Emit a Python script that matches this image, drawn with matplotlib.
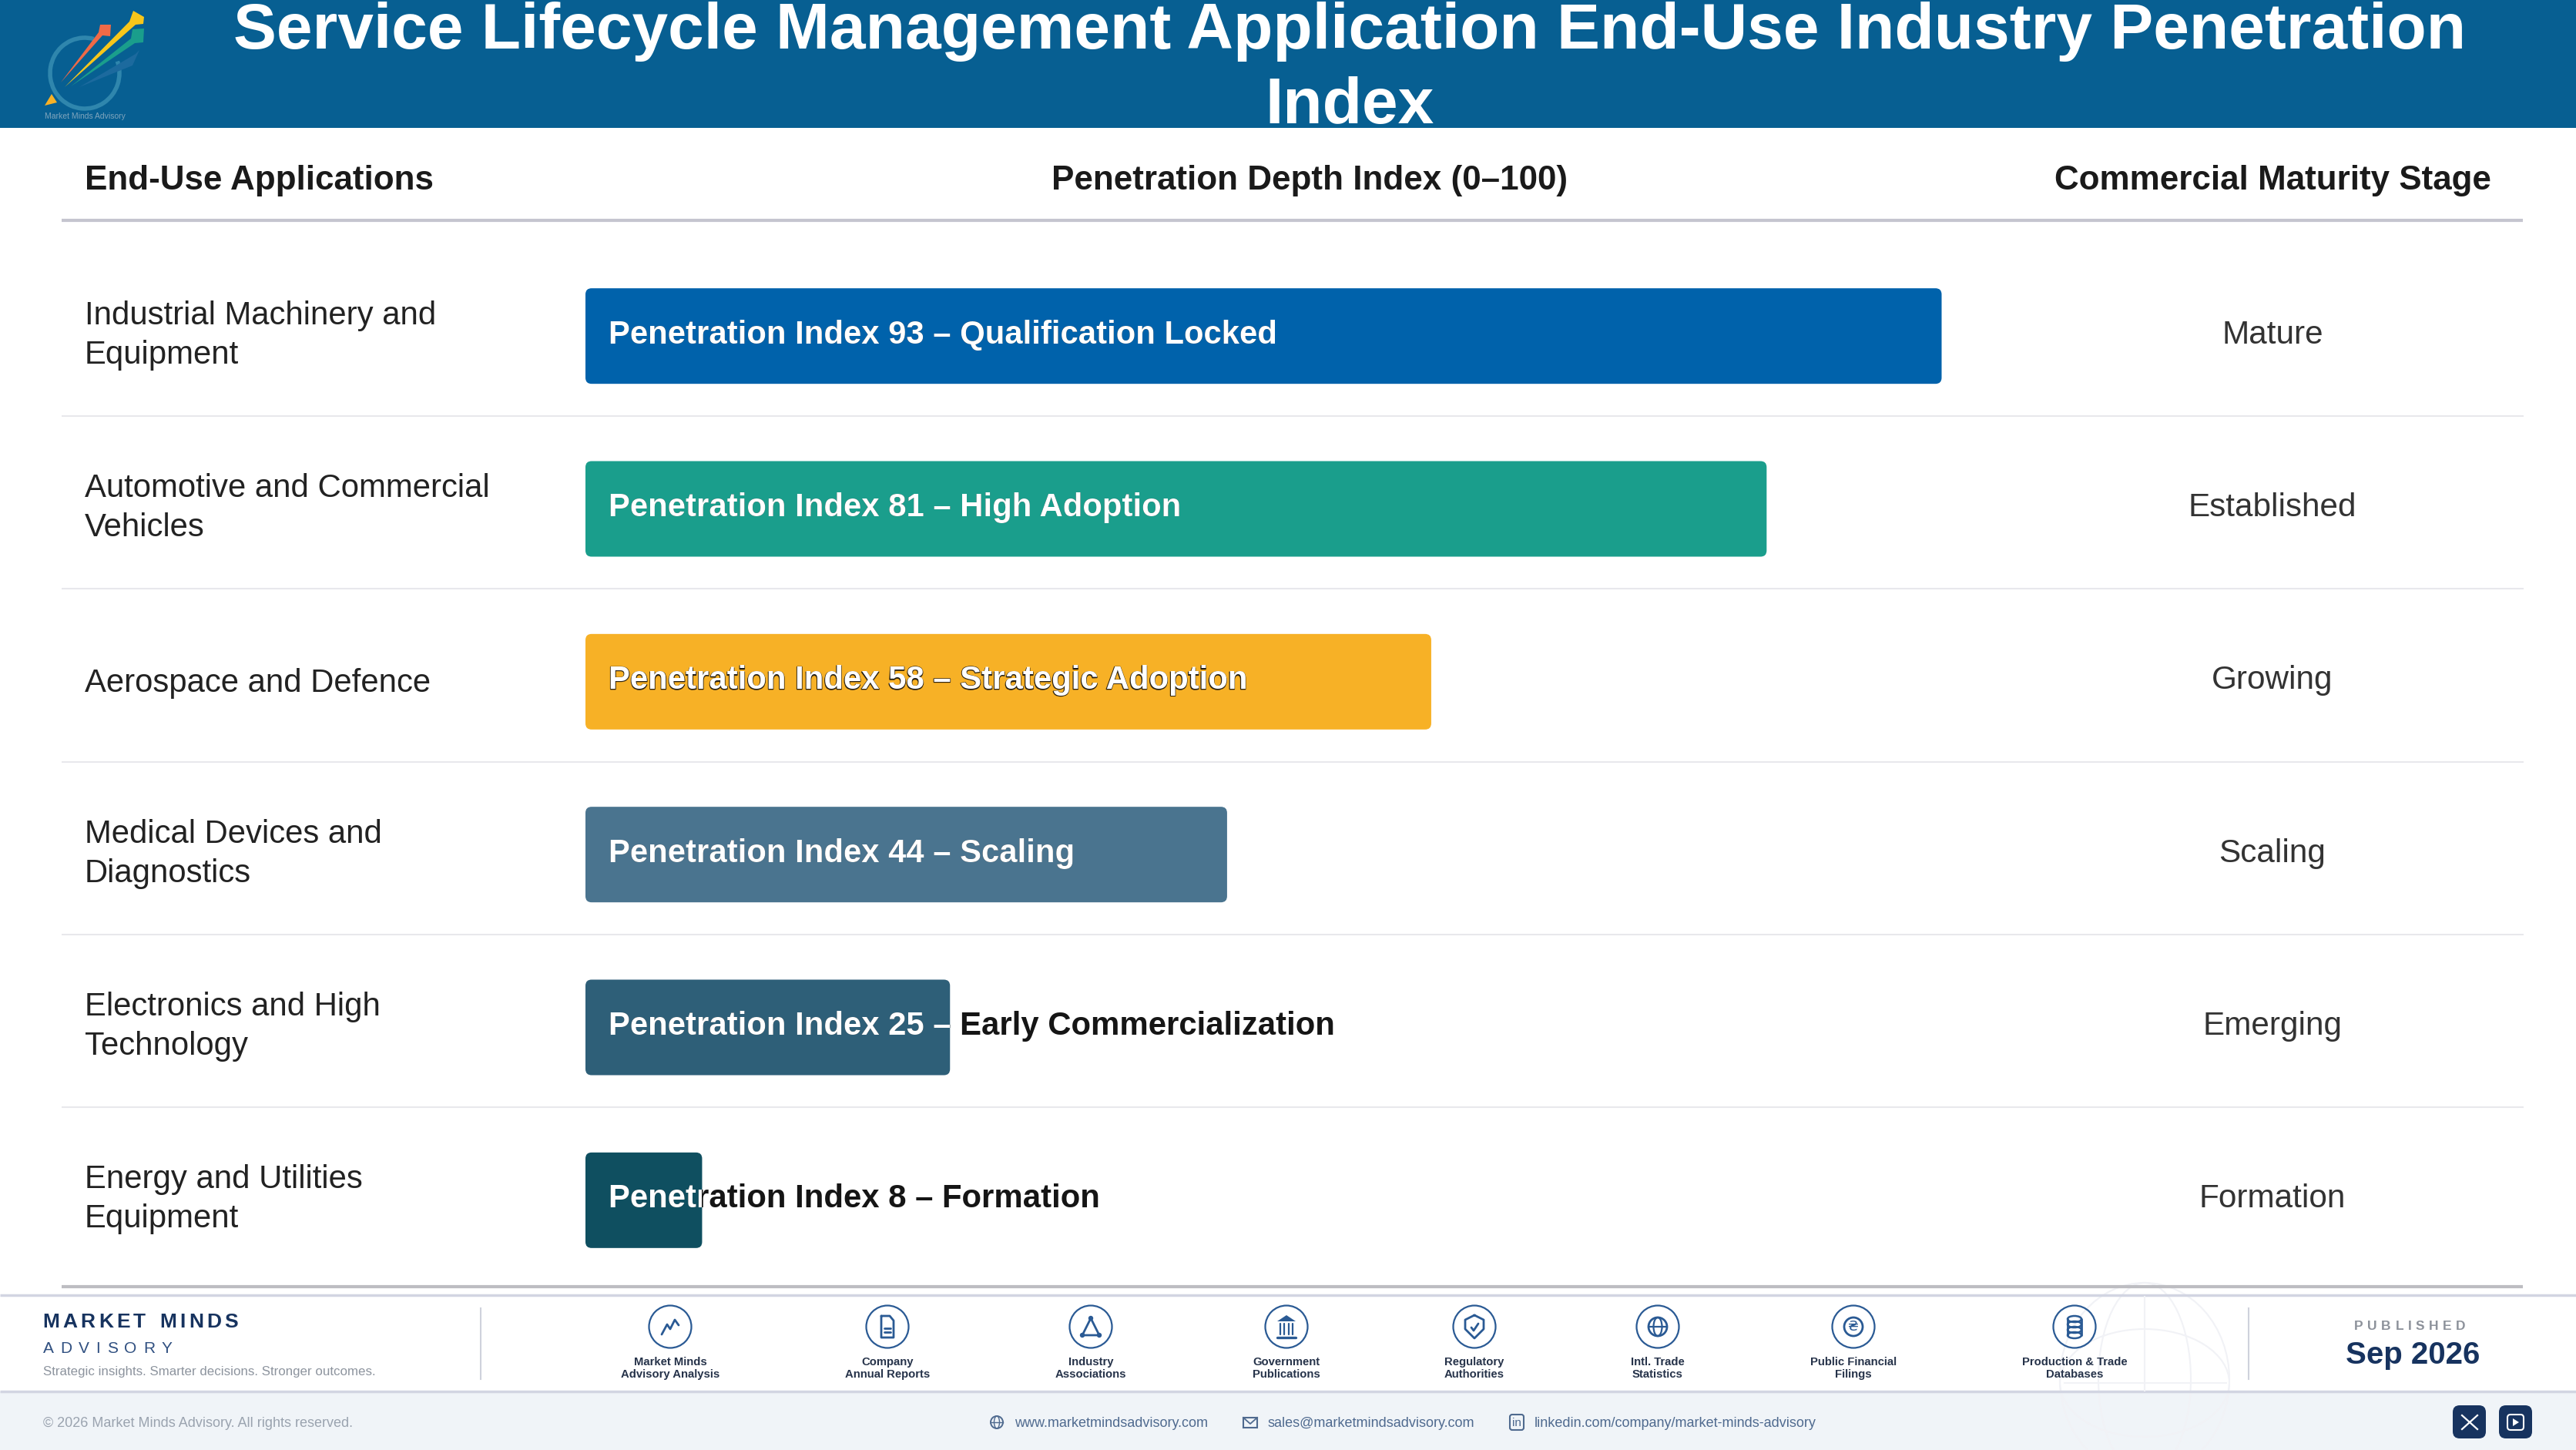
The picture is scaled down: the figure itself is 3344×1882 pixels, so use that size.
import numpy as np
import matplotlib
matplotlib.use("Agg")
import matplotlib.pyplot as plt
import matplotlib.patheffects as pe
from matplotlib.patches import FancyBboxPatch, Polygon, Circle, Arc, Rectangle, Ellipse
from matplotlib.transforms import blended_transform_factory, Bbox, TransformedBbox

plt.rcParams['font.family'] = ['Liberation Sans', 'DejaVu Sans']

# data
title_lines = ["Service Lifecycle Management Application End-Use Industry Penetration", "Index"]
column_heads = ["End-Use Applications", "Penetration Depth Index (0–100)", "Commercial Maturity Stage"]
applications = ["Industrial Machinery and\nEquipment", "Automotive and Commercial\nVehicles",
                "Aerospace and Defence", "Medical Devices and\nDiagnostics",
                "Electronics and High\nTechnology", "Energy and Utilities\nEquipment"]
index_values = [93, 81, 58, 44, 25, 8]
index_notes = ["Qualification Locked", "High Adoption", "Strategic Adoption", "Scaling",
               "Early Commercialization", "Formation"]
stages = ["Mature", "Established", "Growing", "Scaling", "Emerging", "Formation"]
bar_colors = ["#0062ab", "#1a9e8c", "#f7b126", "#4a748f", "#2e5f78", "#0f4f60"]
source_labels = ["Market Minds\nAdvisory Analysis", "Company\nAnnual Reports", "Industry\nAssociations",
                 "Government\nPublications", "Regulatory\nAuthorities", "Intl. Trade\nStatistics",
                 "Public Financial\nFilings", "Production & Trade\nDatabases"]
source_x = [870, 1152, 1416, 1670, 1914, 2152, 2406, 2693]

W, H = 3344, 1882
NAVY = "#17335f"
ICON = "#2a5a94"
fig = plt.figure(figsize=(W / 100, H / 100), dpi=100, facecolor="white")

# page layer, in pixels
bg = fig.add_axes([0, 0, 1, 1])
bg.set_xlim(0, W)
bg.set_ylim(H, 0)
bg.axis("off")

bg.add_patch(Rectangle((0, 0), W, 166, color="#075f92", lw=0))
bg.text(1752, 63, title_lines[0], color="white", fontsize=60.4, fontweight="bold", ha="center", va="baseline")
bg.text(1752, 160, title_lines[1], color="white", fontsize=60.4, fontweight="bold", ha="center", va="baseline", clip_on=True)

# logo
bg.add_patch(Arc((110, 95), 90, 92, angle=0, theta1=-20, theta2=285, color="#2f86ad", lw=4))
bg.add_patch(Polygon([(103, 113), (176, 70), (181, 65), (172, 85)], color="#1c6a9e", lw=0))
bg.add_patch(Polygon([(92, 112), (170, 50), (172, 38), (187, 37), (186, 55), (175, 56)], color="#1a9e8c", lw=0))
bg.add_patch(Polygon([(79, 107), (128, 42), (130, 32), (144, 32), (143, 47), (133, 46)], color="#ef6a47", lw=0))
bg.add_patch(Polygon([(84, 113), (168, 28), (173, 14), (187, 22), (186, 31), (176, 32)], color="#f7c61a", lw=0))
bg.add_patch(Polygon([(58, 137), (67, 122), (74, 133)], color="#f7b126", lw=0))
bg.text(110, 151, "Market Minds Advisory", color="#7fa5bd", fontsize=7.5, ha="center", va="center")

# column heads
bg.text(110, 234, column_heads[0], color="#1a1a1a", fontsize=31.7, fontweight="bold", va="center")
bg.text(1700, 234, column_heads[1], color="#1a1a1a", fontsize=31.7, fontweight="bold", ha="center", va="center")
bg.text(2950, 234, column_heads[2], color="#1a1a1a", fontsize=31.7, fontweight="bold", ha="center", va="center")
bg.plot([80, 3275], [286, 286], color="#c5c5cf", lw=3, solid_capstyle="butt")

# bars
ax = fig.add_axes([760 / W, (H - 1670) / H, 1893 / W, (1670 - 324) / H])
ax.patch.set_alpha(0)
ax.set_xlim(0, 100)
ax.set_ylim(5.5, -0.5)
ax.axis("off")

rows = np.arange(len(applications))
row_px = (1670 - 324) / len(rows)
unit_px = 18.93
bars = ax.barh(rows, index_values, height=124 / row_px)

label_tf = blended_transform_factory(bg.transData, ax.transData)
for i, rect in enumerate(bars):
    rect.set_visible(False)
    box = FancyBboxPatch((rect.get_x(), rect.get_y()), rect.get_width(), rect.get_height(),
                         boxstyle="round,pad=0,rounding_size=0.42", mutation_aspect=unit_px / row_px,
                         facecolor=bar_colors[i], edgecolor="none")
    ax.add_patch(box)
    text = f"Penetration Index {index_values[i]} – {index_notes[i]}"
    # dark text sits under the white one, which only shows inside the bar
    dark = ax.annotate(text, (0, i), xytext=(21.6, 1.0), textcoords="offset points", fontsize=30.15,
                       fontweight="bold", color="#151515", va="center")
    if index_values[i] == 58:
        dark.set_path_effects([pe.withStroke(linewidth=1.3, foreground="#3a2a10")])
    white = ax.annotate(text, (0, i), xytext=(21.6, 1.0), textcoords="offset points", fontsize=30.15,
                        fontweight="bold", color="white", va="center")
    # agg ignores clip paths on text, a clip box is what works
    white.set_clip_on(True)
    white.set_clip_box(TransformedBbox(Bbox.from_bounds(rect.get_x(), rect.get_y(), rect.get_width(), rect.get_height()),
                                       ax.transData))

    drop = 0.7 if "\n" in applications[i] else -1.4
    ax.annotate(applications[i], (110, i), xycoords=label_tf, xytext=(0, drop), textcoords="offset points",
                fontsize=30.2, color="#222222", va="center", linespacing=1.35)
    ax.annotate(stages[i], (2950, i), xycoords=label_tf, xytext=(0, 1.0), textcoords="offset points",
                fontsize=30.4, color="#333333", ha="center", va="center")
    if i < len(rows) - 1:
        sep = i + 0.5 - 8.5 / row_px
        ax.plot([-35.9, 132.9], [sep, sep], color="#e8e8ec", lw=1.5, clip_on=False, solid_capstyle="butt")

bg.plot([80, 3275], [1670, 1670], color="#bdbdc2", lw=3, solid_capstyle="butt")

# footer bands
bg.plot([0, W], [1681, 1681], color="#d2d5e2", lw=2.5, solid_capstyle="butt")
bg.add_patch(Rectangle((0, 1806), W, 76, color="#f0f4f8", lw=0))
bg.plot([0, W], [1806, 1806], color="#d2d5e2", lw=2.5, solid_capstyle="butt")
bg.plot([624, 624], [1698, 1790], color="#cfd2dc", lw=1.5)
bg.plot([2919, 2919], [1698, 1790], color="#cfd2dc", lw=1.5)

# globe watermark
clip = Rectangle((0, 1683), W, 122, transform=bg.transData)
for w, h, yc in [(220, 250, 1790), (120, 250, 1790), (220, 140, 1795)]:
    bg.add_patch(Ellipse((2784, yc), w, h, fill=False, edgecolor="#f1f2f6", lw=1.5, clip_path=clip))
bg.plot([2680, 2890], [1795, 1795], color="#f1f2f6", lw=1.5)
bg.plot([2784, 2784], [1683, 1805], color="#f1f2f6", lw=1.5)


def spaced(x, y, text, gap, **kw):
    # letter spacing by hand, one text per character
    rend = fig.canvas.get_renderer()
    for ch in text:
        if ch == " ":
            x += kw["fontsize"] * 0.5 + gap
            continue
        t = bg.text(x, y, ch, va="center", **kw)
        x += t.get_window_extent(rend).width + gap


spaced(55, 1716, "MARKET MINDS", 4.3, fontsize=19, fontweight="bold", color=NAVY)
spaced(56, 1751, "ADVISORY", 8.5, fontsize=15, color="#2f4f80")
bg.text(56, 1780, "Strategic insights. Smarter decisions. Stronger outcomes.", fontsize=12.2, color="#8d949e", va="center")
spaced(3056, 1722, "PUBLISHED", 5.6, fontsize=12.5, fontweight="bold", color="#8d929b")
bg.text(3132, 1759, "Sep 2026", fontsize=29, fontweight="bold", color=NAVY, ha="center", va="center")


def line(x, y, xs, ys, lw=2.0):
    bg.plot(np.array(xs) + x, np.array(ys) + y, color=ICON, lw=lw, solid_capstyle="round", solid_joinstyle="round")


def draw_icon(i, x, y):
    if i == 0:
        line(x, y, [-11, -4, 0, 6, 11], [10, -3, 3, -9, -2])
    elif i == 1:
        line(x, y, [-8, 3, 8, 8, -8, -8], [-14, -14, -8, 14, 14, -14])
        line(x, y, [-4, 4], [2, 2])
        line(x, y, [-4, 4], [7, 7])
    elif i == 2:
        line(x, y, [0, -11, 11, 0], [-11, 11, 11, -11])
        for dx, dy in [(0, -11), (-11, 11), (11, 11)]:
            bg.add_patch(Circle((x + dx, y + dy), 3.2, color=ICON, lw=0, zorder=3))
    elif i == 3:
        bg.add_patch(Polygon([(x - 12, y - 7), (x, y - 15), (x + 12, y - 7)], color=ICON, lw=0))
        for dx in [-8, -3, 3, 8]:
            line(x, y, [dx, dx], [-4, 10], lw=1.6)
        line(x, y, [-12, 12], [14, 14], lw=2.4)
    elif i == 4:
        line(x, y, [0, 12, 12, 0, -12, -12, 0], [-15, -9, 3, 15, 3, -9, -15])
        line(x, y, [-4, -1, 5], [1, 5, -4])
    elif i == 5:
        bg.add_patch(Circle((x, y), 12, fill=False, edgecolor=ICON, lw=2))
        bg.add_patch(Ellipse((x, y), 11, 24, fill=False, edgecolor=ICON, lw=1.6))
        line(x, y, [-12, 12], [0, 0], lw=1.6)
    elif i == 6:
        bg.add_patch(Circle((x, y), 12, fill=False, edgecolor=ICON, lw=2))
        bg.text(x, y, "₴", color=ICON, fontsize=13, ha="center", va="center", family=["DejaVu Sans"])
    else:
        for dy in [-10, -3, 4, 11]:
            bg.add_patch(Ellipse((x, y + dy), 18, 8, fill=False, edgecolor=ICON, lw=1.8))
        line(x, y, [-9, -9], [-10, 11])
        line(x, y, [9, 9], [-10, 11])


for i, (label, x) in enumerate(zip(source_labels, source_x)):
    bg.add_patch(Circle((x, 1722), 27.5, fill=False, edgecolor=ICON, lw=1.6))
    draw_icon(i, x, 1722)
    bg.text(x, 1776, label, fontsize=10.7, fontweight="bold", color="#26334a", ha="center", va="center", linespacing=1.2)

# bottom strip
bg.text(56, 1848, "© 2026 Market Minds Advisory. All rights reserved.", fontsize=12.95, color="#9aa3af", va="center")
LINK = "#4f6a8f"
bg.text(1317, 1848, "www.marketmindsadvisory.com", fontsize=12.95, color=LINK, va="center")
bg.text(1646, 1848, "sales@marketmindsadvisory.com", fontsize=12.95, color=LINK, va="center")
bg.text(1992, 1848, "linkedin.com/company/market-minds-advisory", fontsize=12.95, color=LINK, va="center")

bg.add_patch(Circle((1294, 1846), 8, fill=False, edgecolor=LINK, lw=1.4))
bg.add_patch(Ellipse((1294, 1846), 7, 16, fill=False, edgecolor=LINK, lw=1))
bg.plot([1286, 1302], [1846, 1846], color=LINK, lw=1)
bg.add_patch(Rectangle((1614, 1840), 18, 13, fill=False, edgecolor=LINK, lw=1.5))
bg.plot([1614, 1623, 1632], [1840, 1848, 1840], color=LINK, lw=1.3)
bg.add_patch(FancyBboxPatch((1960, 1836), 18, 20, boxstyle="round,pad=0,rounding_size=3", fill=False, edgecolor=LINK, lw=1.5))
bg.text(1969, 1847, "in", fontsize=11, color=LINK, ha="center", va="center")

for left in [3184, 3244]:
    bg.add_patch(FancyBboxPatch((left, 1824), 43, 43, boxstyle="round,pad=0,rounding_size=9", facecolor=NAVY, edgecolor="none"))
bg.plot([3196, 3216], [1837, 1855], color="white", lw=1.6)
bg.plot([3196, 3216], [1855, 1837], color="white", lw=1.6)
bg.add_patch(FancyBboxPatch((3255, 1836), 21, 20, boxstyle="round,pad=0,rounding_size=4", fill=False, edgecolor="white", lw=1.5))
bg.add_patch(Polygon([(3262, 1841), (3262, 1851), (3270, 1846)], color="white", lw=0))

fig.savefig("out.png", dpi=100)
